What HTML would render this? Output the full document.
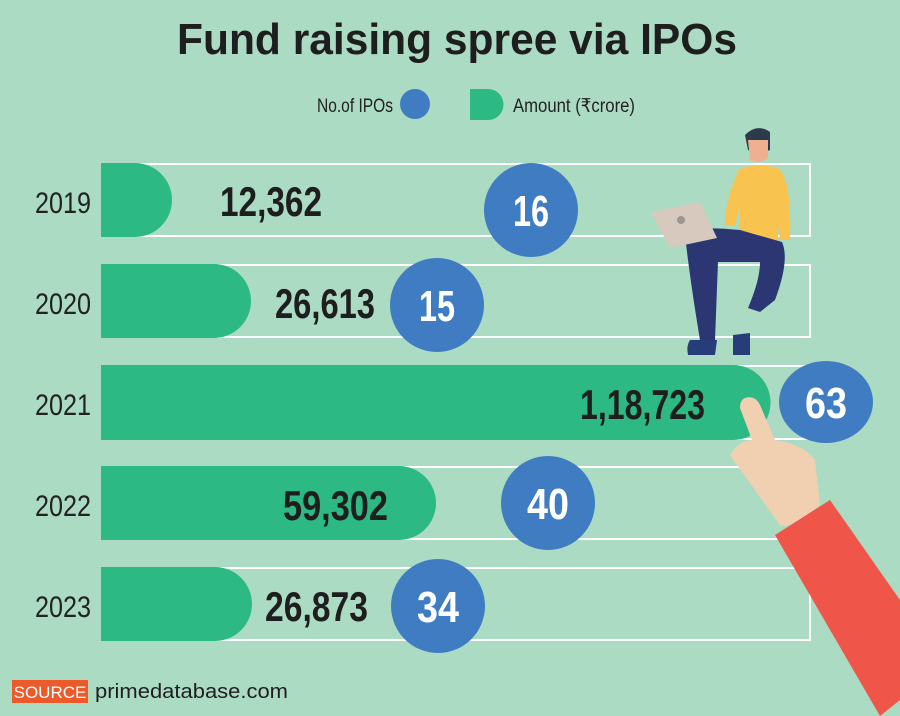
<!DOCTYPE html>
<html><head><meta charset="utf-8"><style>
body{margin:0;background:#acdbc3}
svg{display:block}
.c{font-family:"Liberation Sans Narrow","Liberation Sans",sans-serif}
</style></head><body>
<svg width="900" height="716" viewBox="0 0 900 716" xmlns="http://www.w3.org/2000/svg">
<rect width="900" height="716" fill="#acdbc3"/>
<text x="177" y="54" font-family="Liberation Sans, sans-serif" font-weight="bold" font-size="44" fill="#1e1e1e" textLength="560" lengthAdjust="spacingAndGlyphs">Fund raising spree via IPOs</text>
<g class="c" font-size="19" fill="#222">
<text x="317" y="112" textLength="76" lengthAdjust="spacingAndGlyphs">No.of IPOs</text>
<text x="513" y="112" textLength="122" lengthAdjust="spacingAndGlyphs">Amount (₹crore)</text>
</g>
<circle cx="415" cy="104" r="15" fill="#3f7cc2"/>
<path d="M470 89 H488 A15.5 15.5 0 0 1 488 120 H470 Z" fill="#2db983"/>
<g fill="none" stroke="#fff" stroke-width="2">
<path d="M101 164 H810 V236 H101"/>
<path d="M101 265 H810 V337 H101"/>
<path d="M101 366 H810 V439 H101"/>
<path d="M101 467 H810 V539 H101"/>
<path d="M101 568 H810 V640 H101"/>
</g>
<g fill="#2db983">
<path d="M101 163 H135 A37 37 0 0 1 135 237 H101 Z"/>
<path d="M101 264 H214 A37 37 0 0 1 214 338 H101 Z"/>
<path d="M101 365 H733 A37 37 0 0 1 733 440 H101 Z"/>
<path d="M101 466 H399 A37 37 0 0 1 399 540 H101 Z"/>
<path d="M101 567 H215 A37 37 0 0 1 215 641 H101 Z"/>
</g>
<g class="c" font-size="30" fill="#222">
<text x="35" y="213" textLength="56" lengthAdjust="spacingAndGlyphs">2019</text>
<text x="35" y="314" textLength="56" lengthAdjust="spacingAndGlyphs">2020</text>
<text x="35" y="415" textLength="56" lengthAdjust="spacingAndGlyphs">2021</text>
<text x="35" y="516" textLength="56" lengthAdjust="spacingAndGlyphs">2022</text>
<text x="35" y="617" textLength="56" lengthAdjust="spacingAndGlyphs">2023</text>
</g>
<g class="c" font-size="42" font-weight="bold" fill="#1e1e1e">
<text x="220" y="216" textLength="102" lengthAdjust="spacingAndGlyphs">12,362</text>
<text x="275" y="318" textLength="100" lengthAdjust="spacingAndGlyphs">26,613</text>
<text x="580" y="419" textLength="125" lengthAdjust="spacingAndGlyphs">1,18,723</text>
<text x="283" y="520" textLength="105" lengthAdjust="spacingAndGlyphs">59,302</text>
<text x="265" y="621" textLength="103" lengthAdjust="spacingAndGlyphs">26,873</text>
</g>
<g fill="#3f7cc2">
<circle cx="531" cy="210" r="47"/>
<circle cx="437" cy="305" r="47"/>
<ellipse cx="826" cy="402" rx="47" ry="41"/>
<circle cx="548" cy="503" r="47"/>
<circle cx="438" cy="606" r="47"/>
</g>
<g class="c" font-size="44" font-weight="bold" fill="#fff">
<text x="513" y="226" textLength="36" lengthAdjust="spacingAndGlyphs">16</text>
<text x="419" y="321" textLength="36" lengthAdjust="spacingAndGlyphs">15</text>
<text x="805" y="418" textLength="42" lengthAdjust="spacingAndGlyphs">63</text>
<text x="527" y="519" textLength="42" lengthAdjust="spacingAndGlyphs">40</text>
<text x="417" y="622" textLength="42" lengthAdjust="spacingAndGlyphs">34</text>
</g>
<!-- person -->
<path d="M745 135 Q757 123 770 132 L770 150 Q760 155 748 150 Z" fill="#2d3a4a"/>
<path d="M748 140 H768 V158 Q760 165 750 160 Z" fill="#eeb08f"/>
<path d="M738 170 Q755 162 778 168 Q792 180 790 240 L780 240 L778 225 L778 242 H738 Q742 200 738 170 Z" fill="#f8c44f"/>
<path d="M738 172 Q725 200 725 225 L735 225 Q742 200 745 180 Z" fill="#f8c44f"/>
<path d="M685 235 Q690 225 740 230 L782 242 Q790 260 775 300 L760 312 L748 308 Q760 280 760 262 L718 262 L715 340 L700 340 Q690 280 685 235 Z" fill="#2b3672"/>
<path d="M690 340 H717 L715 355 H688 Q686 346 690 340 Z" fill="#263d7a"/>
<path d="M733 335 L750 333 L750 355 L733 355 Z" fill="#263d7a"/>
<path d="M651 212 L700 202 L717 238 L670 248 Z" fill="#d7c9bd"/>
<circle cx="681" cy="220" r="4" fill="#9f9591"/>
<!-- hand -->
<path d="M745 398 Q755 395 760 405 L775 440 Q805 445 815 460 L820 505 Q790 530 780 525 L730 455 Q740 440 752 440 L740 408 Q740 400 745 398 Z" fill="#f0d0b0"/>
<path d="M775 535 L830 500 L900 600 V700 L880 716 Z" fill="#ef5548"/>
<rect x="12" y="680" width="76" height="23" fill="#ec5a2b"/>
<text x="50" y="698" text-anchor="middle" font-family="Liberation Sans, sans-serif" font-size="17" fill="#fff">SOURCE</text>
<text x="95" y="698" font-family="Liberation Sans, sans-serif" font-size="20" fill="#1e1e1e" textLength="193" lengthAdjust="spacingAndGlyphs">primedatabase.com</text>
</svg>
</body></html>
